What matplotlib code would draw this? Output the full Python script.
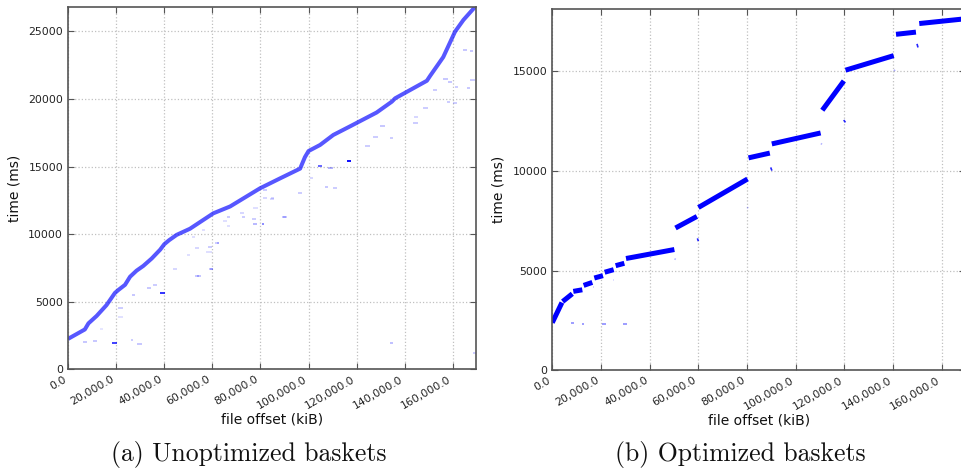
import matplotlib
matplotlib.use("Agg")
import matplotlib.pyplot as plt
from matplotlib.ticker import FuncFormatter, MultipleLocator
import numpy as np

# ---------------- (a) unoptimized baskets ----------------
# main read trace: file offset (kiB) vs time (ms)
unopt_offset = [0, 7000, 8500, 11900, 16000, 19500, 21000, 23700, 25800, 28500,
                31300, 34800, 38300, 40000, 42000, 45200, 50700, 60400, 67400,
                79800, 88200, 96500, 97200, 98500, 100000, 104800, 110300,
                117300, 128300, 134600, 136000, 149200, 150500, 156000, 160900,
                164400, 169300]
unopt_time = [2250, 2950, 3400, 3950, 4750, 5650, 5880, 6250, 6850, 7300,
              7650, 8200, 8850, 9250, 9550, 9950, 10400, 11540, 12050,
              13390, 14130, 14850, 15150, 15700, 16150, 16600, 17340,
              17980, 19000, 19800, 20050, 21350, 21700, 23100, 24980,
              25850, 26830]

# scattered out-of-order reads: start offset, end offset, time, opacity
unopt_out_x0 = [6400, 10500, 18300, 26000, 28800, 13300, 20900, 20900, 26500,
                32700, 38300, 35500, 43800, 52800, 58800, 61100, 52900, 133900,
                168500, 104100, 108200, 115900, 106900, 110300, 123500, 127000,
                129700, 133900, 143600, 144000, 147700, 151900, 156100, 158100,
                164400, 167200, 160900, 167100, 157500, 160200, 165800, 66000,
                71500, 77100, 89500, 95800, 84300, 81200, 100600, 53500, 59000,
                58300, 61800, 72200, 76400, 80500, 88800, 77100, 81200, 84000,
                64600, 66000, 55600, 51400, 49300, 57500]
unopt_out_x1 = [8000, 12200, 20500, 27200, 30600, 14700, 23000, 23000, 27900,
                34400, 40300, 36900, 45200, 54600, 60400, 62900, 54600, 135300,
                169500, 105500, 110000, 117500, 108200, 111700, 125600, 129000,
                131800, 135300, 145700, 145500, 149800, 153300, 158100, 159500,
                165800, 168500, 162300, 169200, 158800, 161600, 167200, 67400,
                73200, 78500, 90900, 97200, 85700, 82600, 102000, 55200, 60400,
                59700, 62900, 73600, 78200, 81600, 90600, 79100, 82600, 85600,
                66300, 67400, 57000, 52800, 50700, 59700]
unopt_out_t = [2020, 2120, 1920, 2170, 1870, 2960, 4560, 3850, 5500,
               6000, 5620, 6240, 7430, 6930, 7430, 9330, 8960, 1970,
               1180, 15050, 14930, 15390, 13520, 13400, 16550, 17220,
               18010, 17150, 18250, 18650, 19320, 20670, 21460, 21290,
               23630, 23560, 20870, 21410, 19810, 19740, 20850, 11300,
               11550, 10760, 11300, 13030, 12710, 13270, 14190, 6930, 7400,
               9030, 9330, 11300, 11100, 10730, 11250, 11920, 12660, 12580,
               11000, 10600, 10310, 9770, 8460, 8710]
unopt_out_alpha = [0.22, 0.22, 0.75, 0.2, 0.22, 0.1, 0.2, 0.12, 0.22,
                   0.22, 0.8, 0.2, 0.16, 0.22, 0.22, 0.2, 0.16, 0.25,
                   0.2, 0.6, 0.3, 0.95, 0.22, 0.2, 0.2, 0.2,
                   0.22, 0.2, 0.2, 0.16, 0.2, 0.2, 0.22, 0.22,
                   0.22, 0.22, 0.2, 0.2, 0.2, 0.2, 0.22, 0.2,
                   0.16, 0.28, 0.2, 0.2, 0.16, 0.2, 0.16, 0.22, 0.22,
                   0.2, 0.2, 0.2, 0.2, 0.45, 0.22, 0.13, 0.16, 0.16,
                   0.13, 0.13, 0.13, 0.13, 0.13, 0.13]

# ---------------- (b) optimized baskets ----------------
# each cluster read: start offset, end offset, start time, end time
opt_x0 = [0, 4250, 8630, 12880, 17260, 21510, 26030, 30280, 50600, 60020,
          80600, 90160, 110900, 120440, 141170, 150720]
opt_x1 = [3970, 8220, 12330, 16440, 20820, 25210, 29590, 50140, 59400, 80200,
          89340, 110210, 119760, 140220, 149360, 170500]
opt_t0 = [2390, 3450, 3960, 4260, 4630, 4920, 5250, 5610, 7140, 8170,
          10660, 11360, 13050, 15060, 16860, 17400]
opt_t1 = [3400, 3840, 4040, 4410, 4750, 5050, 5370, 6060, 7720, 9600,
          10900, 11910, 14520, 15790, 16970, 17650]

# small stray reads
opt_out_x0 = [7700, 12000, 20500, 29200, 16600, 24900, 50200, 59600, 80000,
              89700, 110300, 119700, 140300, 149800]
opt_out_x1 = [9000, 13000, 21900, 30600, 17300, 25500, 50700, 60000, 80500,
              90200, 110800, 120400, 140800, 150200]
opt_out_t0 = [2350, 2340, 2330, 2320, 4160, 4550, 5600, 6620, 8180,
              10180, 11380, 12560, 15080, 16380]
opt_out_t1 = [2350, 2340, 2330, 2320, 4160, 4550, 5560, 6480, 8140,
              10020, 11340, 12440, 15020, 16200]
opt_out_alpha = [0.45, 0.45, 0.45, 0.45, 0.2, 0.15, 0.3, 0.85, 0.25,
                 0.85, 0.3, 0.85, 0.3, 0.85]

x_ticks = [0, 20000, 40000, 60000, 80000, 100000, 120000, 140000, 160000]

plt.rcParams["font.family"] = ["DejaVu Sans"]

fig = plt.figure(figsize=(9.62, 4.71), dpi=100)
ax_a = fig.add_axes([0.0707, 0.2159, 0.4238, 0.7699])
ax_b = fig.add_axes([0.5741, 0.2138, 0.4290, 0.7671])

blue = "#0000ff"

# (a)
for x0, x1, t, a in zip(unopt_out_x0, unopt_out_x1, unopt_out_t, unopt_out_alpha):
    ax_a.plot([x0, x1], [t, t], color=blue, alpha=a, lw=1.4,
              solid_capstyle="butt")
ax_a.plot(unopt_offset, unopt_time, color=blue, alpha=0.66, lw=2.9,
          solid_capstyle="butt", solid_joinstyle="round")
ax_a.set_xlim(0, 169500)
ax_a.set_ylim(0, 26830)
ax_a.yaxis.set_major_locator(MultipleLocator(5000))

# (b)
for x0, x1, t0, t1, a in zip(opt_out_x0, opt_out_x1, opt_out_t0, opt_out_t1,
                             opt_out_alpha):
    ax_b.plot([x0, x1], [t0, t1], color=blue, alpha=a, lw=1.2,
              solid_capstyle="butt")
for x0, x1, t0, t1 in zip(opt_x0, opt_x1, opt_t0, opt_t1):
    ax_b.plot([x0, x1], [t0, t1], color=blue, lw=3.6, solid_capstyle="butt")
ax_b.set_xlim(0, 169500)
ax_b.set_ylim(0, 18130)
ax_b.yaxis.set_major_locator(MultipleLocator(5000))

fmt = FuncFormatter(lambda v, p: f"{v:,.1f}")
for ax in (ax_a, ax_b):
    ax.set_xticks(x_ticks)
    ax.xaxis.set_major_formatter(fmt)
    ax.grid(True, color="#c0c0c0", linestyle=":", linewidth=0.9)
    ax.set_axisbelow(True)
    for s in ax.spines.values():
        s.set_color("#555555")
        s.set_linewidth(1.2)
    ax.tick_params(direction="in", length=4, width=0.8, color="#555555",
                   labelsize=7.8, labelcolor="#222222", top=True, right=True)
    for lab in ax.get_xticklabels():
        lab.set_rotation(30)
        lab.set_ha("right")
    ax.set_xlabel("file offset (kiB)", fontsize=10, color="#111111", labelpad=1)
    ax.set_ylabel("time (ms)", fontsize=10, color="#111111", labelpad=5)

fig.text(0.2588, 0.035, "(a) Unoptimized baskets", family="cmr10",
         fontsize=18.5, ha="center", va="center", color="#111111")
fig.text(0.7693, 0.035, "(b) Optimized baskets", family="cmr10",
         fontsize=18.5, ha="center", va="center", color="#111111")

fig.savefig("out.png", dpi=100)
